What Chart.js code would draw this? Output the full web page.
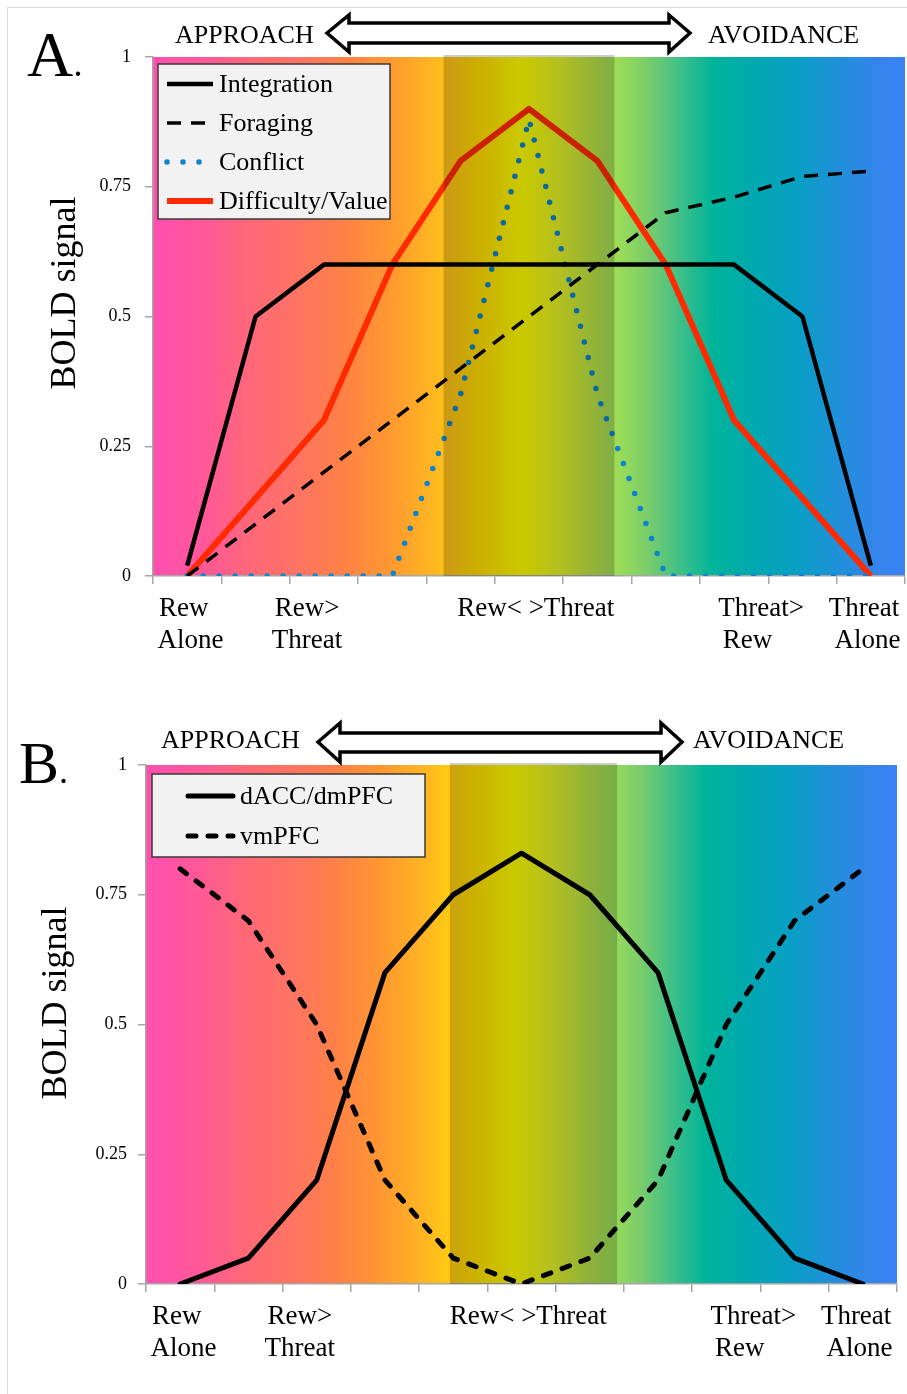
<!DOCTYPE html>
<html>
<head>
<meta charset="utf-8">
<script src="https://cdn.jsdelivr.net/npm/chart.js@4.4.1/dist/chart.umd.min.js"></script>
<style>
  body { margin: 0; background: #fff; }
  #page { position: relative; width: 907px; height: 1394px; overflow: hidden; background: #fff; }
  #frame { position: absolute; left: 7px; top: 7px; right: 0; bottom: 0; border-left: 1px solid #d8dde5; border-top: 1px solid #d8dde5; }
  canvas { position: absolute; left: 0; }
  #chartA { top: 0; }
  #chartB { top: 690px; }
  #notes { position: absolute; left: 0; top: 0; pointer-events: none; }
</style>
</head>
<body>
<div id="page">
  <div id="frame"></div>
  <canvas id="chartA" width="907" height="690"></canvas>
  <canvas id="chartB" width="907" height="704"></canvas>
  <svg id="notes" width="907" height="1394">
    <g font-family="'Liberation Serif', 'Times New Roman', serif" fill="#000">
      <text x="27" y="76" font-size="64">A<tspan font-size="38">.</tspan></text>
      <text x="175" y="43" font-size="26">APPROACH</text>
      <text x="708" y="43" font-size="26">AVOIDANCE</text>
      <path d="M327 33 L349 15 L349 23 L669 23 L669 15 L690 33 L669 52 L669 43 L349 43 L349 52 Z"
            fill="#fff" stroke="#000" stroke-width="3.5" stroke-linejoin="miter"/>
      <text transform="translate(75,293) rotate(-90)" text-anchor="middle" font-size="36">BOLD signal</text>

      <text x="19" y="783" font-size="60">B<tspan font-size="36">.</tspan></text>
      <text x="161" y="748" font-size="26">APPROACH</text>
      <text x="693" y="748" font-size="26">AVOIDANCE</text>
      <path d="M318 742 L340 723 L340 733 L661 733 L661 723 L682 742 L661 762 L661 752 L340 752 L340 762 Z"
            fill="#fff" stroke="#000" stroke-width="3.5" stroke-linejoin="miter"/>
      <text transform="translate(66,1003) rotate(-90)" text-anchor="middle" font-size="36">BOLD signal</text>
    </g>
  </svg>
</div>

<script>
// categories along the approach-avoidance axis (only some are labelled)
const categories = [['Rew', 'Alone'], '', ['Rew>', 'Threat'], '', '', 'Rew< >Threat', '', '', ['Threat>', 'Rew'], '', ['Threat', 'Alone']];
const yTicks = [0, 0.25, 0.5, 0.75, 1];

// panel A
const integration = [0.02, 0.5, 0.6, 0.6, 0.6, 0.6, 0.6, 0.6, 0.6, 0.5, 0.02];
const foraging = [0, 0.1, 0.2, 0.3, 0.4, 0.5, 0.6, 0.7, 0.73, 0.77, 0.78];
const conflict = [0, 0, 0, 0, 0.35, 0.88, 0.35, 0, 0, 0, 0];
const difficulty = [0, 0.15, 0.3, 0.6, 0.8, 0.9, 0.8, 0.6, 0.3, 0.15, 0];

// panel B
const dacc = [0, 0.05, 0.2, 0.6, 0.75, 0.83, 0.75, 0.6, 0.2, 0.05, 0];
const vmpfc = [0.8, 0.7, 0.5, 0.2, 0.05, 0, 0.05, 0.2, 0.5, 0.7, 0.8];

const serif = "'Liberation Serif', 'Times New Roman', serif";
const axisGrey = '#a6a6a6';

// the original labels sit a little off their category centre;
// nudge each line by a few spaces (negative = trailing, positive = leading)
const labelNudge = { 0: [-1, 1], 2: [-5, -5], 5: [2], 8: [8, 4], 10: [-2, -1] };

function tickLabel(value, index) {
    const lab = categories[index];
    const n = labelNudge[index];
    if (!n) return lab;
    const lines = Array.isArray(lab) ? lab : [lab];
    return lines.map((t, k) => n[k] > 0 ? ' '.repeat(n[k]) + t : t + ' '.repeat(-n[k] || 0));
}

// background colour ramp, pink -> yellow -> green -> blue
const spectrum = [
    [0.00, '#ff4fb0'], [0.07, '#ff5898'], [0.13, '#ff6878'], [0.20, '#ff7560'],
    [0.25, '#ff8048'], [0.31, '#ff9632'], [0.37, '#ffb522'], [0.39, '#ffc21a'],
    [0.435, '#ffdc00'], [0.49, '#fdfc00'], [0.54, '#e2f028'], [0.60, '#aadc50'],
    [0.62, '#9adc58'], [0.66, '#78cc6c'], [0.70, '#40c088'], [0.745, '#00b49a'],
    [0.80, '#00a8b0'], [0.86, '#0a9fc6'], [0.91, '#2090d8'], [0.96, '#3385ea'],
    [1.00, '#3b82f6']
];

const spectrumPlugin = {
    id: 'spectrum',
    beforeDraw(chart) {
        const { ctx, chartArea: a } = chart;
        const g = ctx.createLinearGradient(a.left, 0, a.right, 0);
        spectrum.forEach(s => g.addColorStop(s[0], s[1]));
        ctx.save();
        ctx.fillStyle = g;
        ctx.fillRect(a.left, a.top, a.right - a.left, a.bottom - a.top);
        ctx.restore();
    }
};

// darker band over the middle categories, drawn on top of the lines
const shadePlugin = {
    id: 'shade',
    afterDatasetsDraw(chart, args, opts) {
        const { ctx, chartArea: a } = chart;
        const x0 = chart.scales.x.getPixelForValue(opts.from);
        const x1 = chart.scales.x.getPixelForValue(opts.to);
        ctx.save();
        ctx.fillStyle = 'rgba(0,0,0,0.2)';
        ctx.fillRect(x0, a.top - 2, x1 - x0, a.bottom - a.top + 2);
        ctx.restore();
    }
};

// boxed legend inside the plot area
const boxLegendPlugin = {
    id: 'boxLegend',
    afterDraw(chart, args, opts) {
        const { ctx, chartArea: a } = chart;
        const x = a.left + opts.dx, y = a.top + opts.dy;
        ctx.save();
        ctx.fillStyle = '#f2f2f2';
        ctx.fillRect(x, y, opts.w, opts.h);
        ctx.strokeStyle = '#3a3a3a';
        ctx.lineWidth = 1.5;
        ctx.strokeRect(x, y, opts.w, opts.h);
        chart.data.datasets.forEach((ds, i) => {
            const cy = y + opts.firstRow + i * opts.rowStep;
            ctx.beginPath();
            ctx.setLineDash(ds.borderDash || []);
            ctx.lineCap = ds.borderCapStyle || 'butt';
            ctx.strokeStyle = ds.borderColor;
            ctx.lineWidth = ds.borderWidth;
            ctx.moveTo(x + opts.sampleFrom, cy);
            ctx.lineTo(x + opts.sampleTo, cy);
            ctx.stroke();
            ctx.setLineDash([]);
            ctx.fillStyle = '#000';
            ctx.font = '26px ' + serif;
            ctx.textBaseline = 'middle';
            ctx.textAlign = 'left';
            ctx.fillText(ds.label, x + opts.textX, cy + 1);
        });
        ctx.restore();
    }
};

function lineSet(label, data, color, width, dash, cap) {
    return {
        label, data,
        borderColor: color,
        borderWidth: width,
        borderDash: dash,
        borderCapStyle: cap,
        borderJoinStyle: 'round',
        pointRadius: 0,
        fill: false,
        tension: 0
    };
}

function makeChart(id, datasets, layout, band, legend) {
    return new Chart(document.getElementById(id), {
        type: 'line',
        data: { labels: categories, datasets },
        plugins: [spectrumPlugin, shadePlugin, boxLegendPlugin],
        options: {
            responsive: false,
            animation: false,
            devicePixelRatio: 1,
            layout: { padding: { top: layout.top, right: layout.right, left: 0, bottom: 0 } },
            plugins: {
                legend: { display: false },
                tooltip: { enabled: false },
                shade: band,
                boxLegend: legend
            },
            scales: {
                x: {
                    offset: true,
                    grid: { offset: true, drawOnChartArea: false, tickLength: 8, color: axisGrey, lineWidth: 1.5 },
                    border: { color: axisGrey, width: 1.5 },
                    ticks: {
                        autoSkip: false, maxRotation: 0, minRotation: 0, padding: 9, color: '#000',
                        font: { family: serif, size: 27, lineHeight: 1.185 },
                        callback: tickLabel
                    },
                    afterFit(s) { s.height = layout.xHeight; s.paddingLeft = 0; s.paddingRight = 0; }
                },
                y: {
                    min: 0, max: 1,
                    afterBuildTicks(s) { s.ticks = yTicks.map(v => ({ value: v })); },
                    grid: { drawOnChartArea: false, tickLength: 8, color: axisGrey, lineWidth: 1.5 },
                    border: { color: axisGrey, width: 1.5 },
                    ticks: {
                        padding: layout.yPad, color: '#000', font: { family: serif, size: 18 },
                        callback: v => String(v)
                    },
                    afterFit(s) { s.width = layout.yWidth; }
                }
            }
        }
    });
}

makeChart('chartA', [
    lineSet('Integration', integration, '#000000', 4.5, [], 'butt'),
    lineSet('Foraging', foraging, '#000000', 3.5, [14, 10], 'butt'),
    lineSet('Conflict', conflict, '#0a84cc', 5.5, [0, 16], 'round'),
    lineSet('Difficulty/Value', difficulty, '#ff2a00', 6, [], 'butt')
], { top: 57, right: 2, xHeight: 114, yWidth: 153, yPad: 14 },
   { from: 3.75, to: 6.25 },
   { dx: 5, dy: 7, w: 232, h: 155, firstRow: 20, rowStep: 39, sampleFrom: 9, sampleTo: 55, textX: 61 });

makeChart('chartB', [
    lineSet('dACC/dmPFC', dacc, '#000000', 5, [], 'round'),
    lineSet('vmPFC', vmpfc, '#000000', 5, [8, 12], 'round')
], { top: 75, right: 10, xHeight: 110, yWidth: 146, yPad: 11 },
   { from: 3.95, to: 6.4 },
   { dx: 6, dy: 9, w: 273, h: 83, firstRow: 22, rowStep: 40, sampleFrom: 36, sampleTo: 81, textX: 88 });
</script>
</body>
</html>
